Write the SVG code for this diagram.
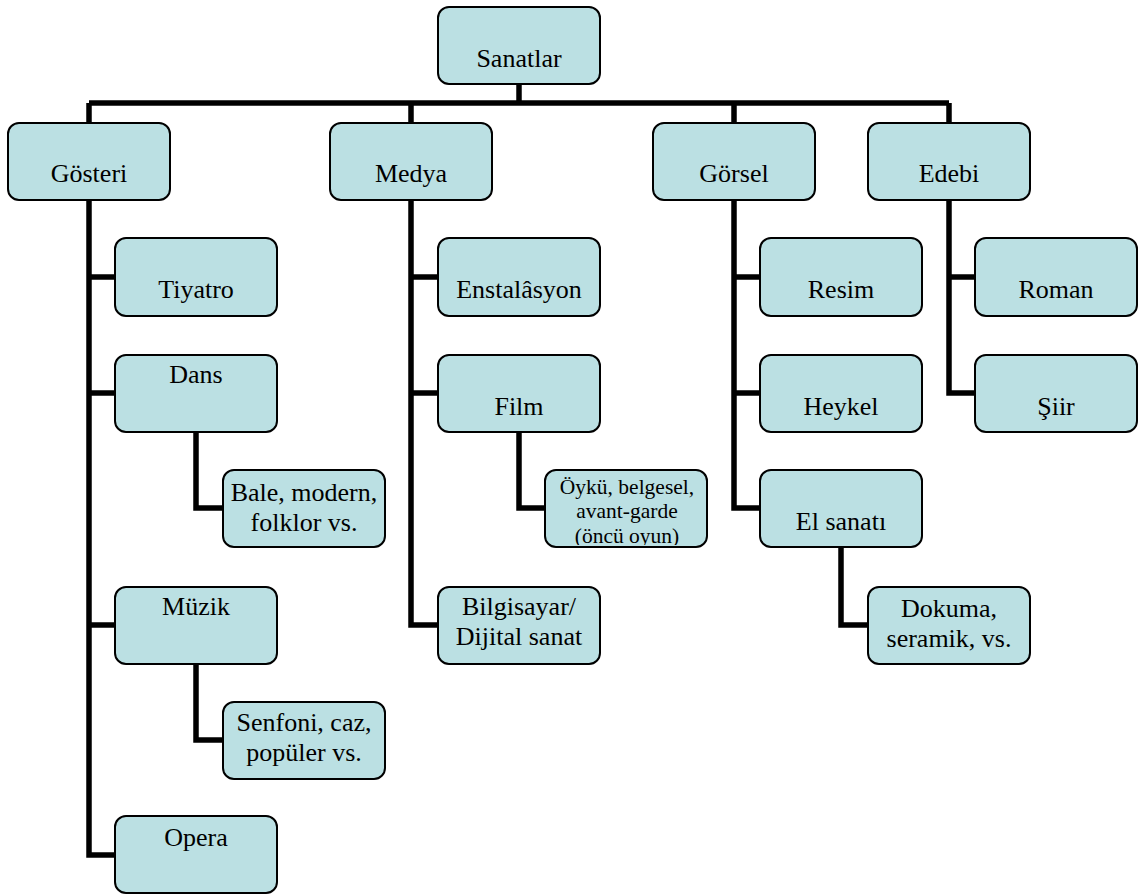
<svg xmlns="http://www.w3.org/2000/svg" width="1140" height="895" viewBox="0 0 1140 895">
<style>
.box{fill:#BBE0E3;stroke:#000;stroke-width:2}
.t{font-family:"Liberation Serif","Times New Roman",serif;font-size:26px;fill:#000;text-anchor:middle}
.s{font-size:21.5px}
.c{fill:none;stroke:#000;stroke-width:5.5;stroke-linejoin:miter;stroke-linecap:butt}
</style>
<defs>
<clipPath id="clipOyku"><rect x="546" y="471" width="160" height="74" rx="9"/></clipPath>
</defs>
<rect width="1140" height="895" fill="#fff"/>
<g id="connectors">
<path class="c" d="M519 84V103"/>
<path class="c" d="M89 103H949"/>
<path class="c" d="M89 103V123M411 103V123M734 103V123M949 103V123"/>
<path class="c" d="M89 200V855H115M89 277H115M89 393H115M89 625H115"/>
<path class="c" d="M196 432V508H223"/>
<path class="c" d="M196 664V740H223"/>
<path class="c" d="M411 200V625H438M411 277H438M411 393H438"/>
<path class="c" d="M519 432V508H545"/>
<path class="c" d="M734 200V508H760M734 277H760M734 393H760"/>
<path class="c" d="M841 547V625H868"/>
<path class="c" d="M949 200V393H975M949 277H975"/>
</g>
<g id="sanatlar"><rect class="box" x="438" y="7" width="162" height="77" rx="11"/><text class="t" x="519" y="67">Sanatlar</text></g>
<g id="gosteri"><rect class="box" x="8" y="123" width="162" height="77" rx="11"/><text class="t" x="89" y="182">Gösteri</text></g>
<g id="medya"><rect class="box" x="330" y="123" width="162" height="77" rx="11"/><text class="t" x="411" y="182">Medya</text></g>
<g id="gorsel"><rect class="box" x="653" y="123" width="162" height="77" rx="11"/><text class="t" x="734" y="182">Görsel</text></g>
<g id="edebi"><rect class="box" x="868" y="123" width="162" height="77" rx="11"/><text class="t" x="949" y="182">Edebi</text></g>
<g id="tiyatro"><rect class="box" x="115" y="238" width="162" height="78" rx="11"/><text class="t" x="196" y="298">Tiyatro</text></g>
<g id="dans"><rect class="box" x="115" y="355" width="162" height="77" rx="11"/><text class="t" x="196" y="383">Dans</text></g>
<g id="bale"><rect class="box" x="223" y="470" width="162" height="77" rx="11"/><text class="t" x="304" y="501">Bale, modern,</text><text class="t" x="304" y="531">folklor vs.</text></g>
<g id="muzik"><rect class="box" x="115" y="587" width="162" height="77" rx="11"/><text class="t" x="196" y="615">Müzik</text></g>
<g id="senfoni"><rect class="box" x="223" y="702" width="162" height="77" rx="11"/><text class="t" x="304" y="731">Senfoni, caz,</text><text class="t" x="304" y="761">popüler vs.</text></g>
<g id="opera"><rect class="box" x="115" y="816" width="162" height="77" rx="11"/><text class="t" x="196" y="846">Opera</text></g>
<g id="enstalasyon"><rect class="box" x="438" y="238" width="162" height="78" rx="11"/><text class="t" x="519" y="298">Enstalâsyon</text></g>
<g id="film"><rect class="box" x="438" y="355" width="162" height="77" rx="11"/><text class="t" x="519" y="415">Film</text></g>
<g id="oyku"><rect class="box" x="545" y="470" width="162" height="77" rx="11"/><g clip-path="url(#clipOyku)"><text class="t s" x="627" y="494">Öykü, belgesel,</text><text class="t s" x="627" y="518">avant-garde</text><text class="t s" x="627" y="543">(öncü oyun)</text></g></g>
<g id="bilgisayar"><rect class="box" x="438" y="587" width="162" height="77" rx="11"/><text class="t" x="519" y="615">Bilgisayar/</text><text class="t" x="519" y="645">Dijital sanat</text></g>
<g id="resim"><rect class="box" x="760" y="238" width="162" height="78" rx="11"/><text class="t" x="841" y="298">Resim</text></g>
<g id="heykel"><rect class="box" x="760" y="355" width="162" height="77" rx="11"/><text class="t" x="841" y="415">Heykel</text></g>
<g id="elsanati"><rect class="box" x="760" y="470" width="162" height="77" rx="11"/><text class="t" x="841" y="530">El sanatı</text></g>
<g id="dokuma"><rect class="box" x="868" y="587" width="162" height="77" rx="11"/><text class="t" x="949" y="617">Dokuma,</text><text class="t" x="949" y="647">seramik, vs.</text></g>
<g id="roman"><rect class="box" x="975" y="238" width="162" height="78" rx="11"/><text class="t" x="1056" y="298">Roman</text></g>
<g id="siir"><rect class="box" x="975" y="355" width="162" height="77" rx="11"/><text class="t" x="1056" y="415">Şiir</text></g>
</svg>
